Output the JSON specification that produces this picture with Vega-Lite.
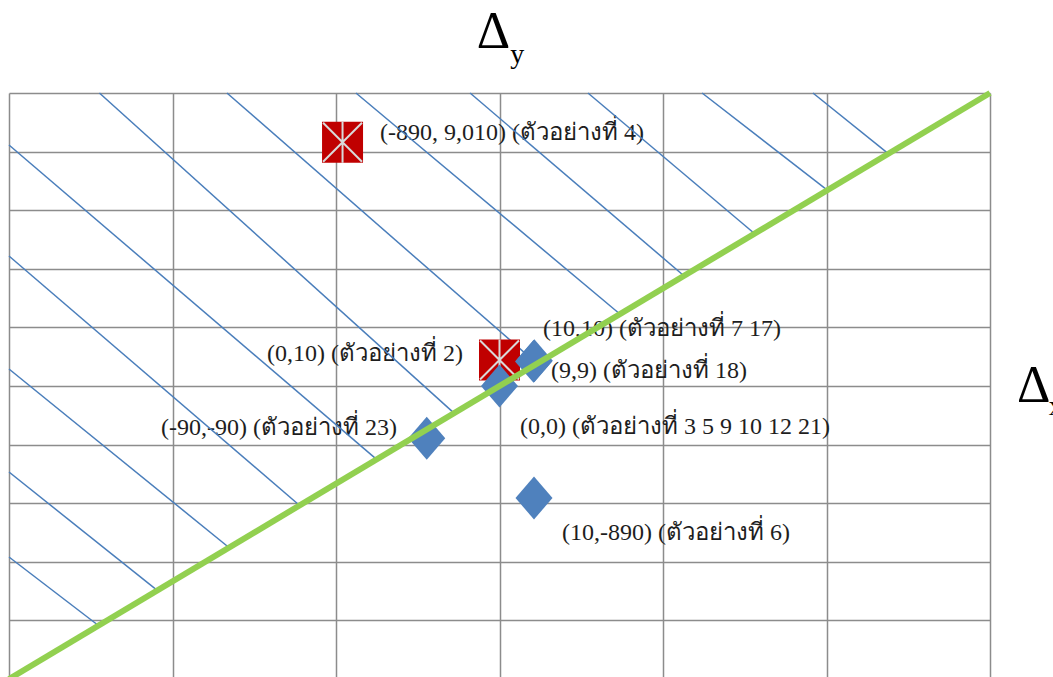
{
  "$schema": "https://vega.github.io/schema/vega-lite/v6.json",
  "width": 981,
  "height": 586,
  "autosize": {"type": "none"},
  "padding": {"left": 9, "top": 93, "right": 63, "bottom": 0},
  "background": "white",
  "config": {
    "view": {"stroke": null},
    "axis": {"grid": true, "gridColor": "#8C8C8C", "gridWidth": 1.5, "gridOpacity": 1, "domain": false, "ticks": false, "labels": false, "title": null},
    "axisX": {"tickCount": 6},
    "axisY": {"tickCount": 10}
  },
  "datasets": {
    "hatch": [
      {"x": -3, "y": -2.918, "x2": -2.457, "y2": -4.078},
      {"x": -3, "y": -1.468, "x2": -2.097, "y2": -3.48},
      {"x": -3, "y": 0.29, "x2": -1.653, "y2": -2.76},
      {"x": -3, "y": 2.218, "x2": -1.224, "y2": -2.035},
      {"x": -3, "y": 4.113, "x2": -0.757, "y2": -1.24},
      {"x": -2.447, "y": 5, "x2": -0.283, "y2": -0.45},
      {"x": -1.667, "y": 5, "x2": 0.229, "y2": 0.382},
      {"x": -0.878, "y": 5, "x2": 0.727, "y2": 1.25},
      {"x": -0.18, "y": 5, "x2": 1.124, "y2": 1.89},
      {"x": 0.541, "y": 5, "x2": 1.552, "y2": 2.62},
      {"x": 1.239, "y": 5, "x2": 2.001, "y2": 3.35},
      {"x": 1.917, "y": 5, "x2": 2.376, "y2": 3.97}
    ],
    "boundary": [
      {"x": -3, "y": -5, "x2": 3, "y2": 5}
    ],
    "squares": [
      {"label": "(0,10)", "x": 0.0, "y": 0.444},
      {"label": "(-890, 9,010)", "x": -0.96, "y": 4.16}
    ],
    "diamonds": [
      {"label": "(10,-890)", "x": 0.211, "y": -1.911},
      {"label": "(-90,-90)", "x": -0.445, "y": -0.892},
      {"label": "(0,0)", "x": 0.0, "y": 0.0},
      {"label": "(9,9)", "x": 0.208, "y": 0.42},
      {"label": "(10,10)", "x": 0.213, "y": 0.43}
    ],
    "labels": [
      {"text": "(-890, 9,010) (ตัวอย่างที่ 4)", "x": -0.731, "y": 4.311, "side": "left"},
      {"text": "(10,10) (ตัวอย่างที่ 7 17)", "x": 0.266, "y": 0.973, "side": "left"},
      {"text": "(9,9) (ตัวอย่างที่ 18)", "x": 0.315, "y": 0.256, "side": "left"},
      {"text": "(0,0) (ตัวอย่างที่ 3 5 9 10 12 21)", "x": 0.125, "y": -0.70, "side": "left"},
      {"text": "(10,-890) (ตัวอย่างที่ 6)", "x": 0.382, "y": -2.509, "side": "left"},
      {"text": "(0,10) (ตัวอย่างที่ 2)", "x": -0.223, "y": 0.55, "side": "right"},
      {"text": "(-90,-90) (ตัวอย่างที่ 23)", "x": -0.627, "y": -0.71, "side": "right"}
    ],
    "axisnames": [
      {"text": "Δ", "x": -0.139, "y": 5.768, "kind": "main"},
      {"text": "y", "x": 0.066, "y": 5.512, "kind": "sub"},
      {"text": "Δ", "x": 3.165, "y": -0.273, "kind": "main"},
      {"text": "x", "x": 3.36, "y": -0.495, "kind": "sub"}
    ]
  },
  "layer": [
    {
      "data": {"name": "boundary"},
      "mark": {"type": "rule", "opacity": 0},
      "encoding": {
        "x": {"field": "x", "type": "quantitative", "scale": {"domain": [-3, 3], "nice": false, "zero": false}},
        "y": {"field": "y", "type": "quantitative", "scale": {"domain": [-5, 5], "nice": false, "zero": false}}
      }
    },
    {
      "data": {"name": "labels"},
      "transform": [{"filter": "datum.side === 'left'"}],
      "mark": {"type": "text", "align": "left", "baseline": "middle", "font": "Liberation Serif", "fontSize": 24, "color": "#1E1E1E"},
      "encoding": {
        "x": {"field": "x", "type": "quantitative"},
        "y": {"field": "y", "type": "quantitative"},
        "text": {"field": "text"}
      }
    },
    {
      "data": {"name": "labels"},
      "transform": [{"filter": "datum.side === 'right'"}],
      "mark": {"type": "text", "align": "right", "baseline": "middle", "font": "Liberation Serif", "fontSize": 24, "color": "#1E1E1E"},
      "encoding": {
        "x": {"field": "x", "type": "quantitative"},
        "y": {"field": "y", "type": "quantitative"},
        "text": {"field": "text"}
      }
    },
    {
      "data": {"name": "hatch"},
      "mark": {"type": "rule", "color": "#4A7EBB", "strokeWidth": 1.5},
      "encoding": {
        "x": {"field": "x", "type": "quantitative"},
        "y": {"field": "y", "type": "quantitative"},
        "x2": {"field": "x2"},
        "y2": {"field": "y2"}
      }
    },
    {
      "data": {"name": "squares"},
      "mark": {"type": "point", "shape": "square", "filled": true, "color": "#C00000", "opacity": 1, "size": 1681},
      "encoding": {
        "x": {"field": "x", "type": "quantitative"},
        "y": {"field": "y", "type": "quantitative"}
      }
    },
    {
      "data": {"name": "squares"},
      "mark": {"type": "point", "shape": "M-0.95,-0.95L0.95,0.95M0.95,-0.95L-0.95,0.95M0,-1L0,1", "filled": false, "stroke": "#D9D9D9", "strokeWidth": 2, "opacity": 1, "size": 1681},
      "encoding": {
        "x": {"field": "x", "type": "quantitative"},
        "y": {"field": "y", "type": "quantitative"}
      }
    },
    {
      "data": {"name": "diamonds"},
      "mark": {"type": "point", "shape": "M0,-1.16L1,0L0,1.16L-1,0Z", "filled": true, "color": "#4F81BD", "opacity": 1, "size": 1369},
      "encoding": {
        "x": {"field": "x", "type": "quantitative"},
        "y": {"field": "y", "type": "quantitative"}
      }
    },
    {
      "data": {"name": "boundary"},
      "mark": {"type": "rule", "color": "#92D050", "strokeWidth": 6},
      "encoding": {
        "x": {"field": "x", "type": "quantitative"},
        "y": {"field": "y", "type": "quantitative"},
        "x2": {"field": "x2"},
        "y2": {"field": "y2"}
      }
    },
    {
      "data": {"name": "axisnames"},
      "transform": [{"filter": "datum.kind === 'main'"}],
      "mark": {"type": "text", "align": "left", "baseline": "alphabetic", "font": "Liberation Serif", "fontSize": 52, "color": "#000000"},
      "encoding": {
        "x": {"field": "x", "type": "quantitative"},
        "y": {"field": "y", "type": "quantitative"},
        "text": {"field": "text"}
      }
    },
    {
      "data": {"name": "axisnames"},
      "transform": [{"filter": "datum.kind === 'sub'"}],
      "mark": {"type": "text", "align": "left", "baseline": "alphabetic", "font": "Liberation Serif", "fontSize": 28, "color": "#000000"},
      "encoding": {
        "x": {"field": "x", "type": "quantitative"},
        "y": {"field": "y", "type": "quantitative"},
        "text": {"field": "text"}
      }
    }
  ]
}
